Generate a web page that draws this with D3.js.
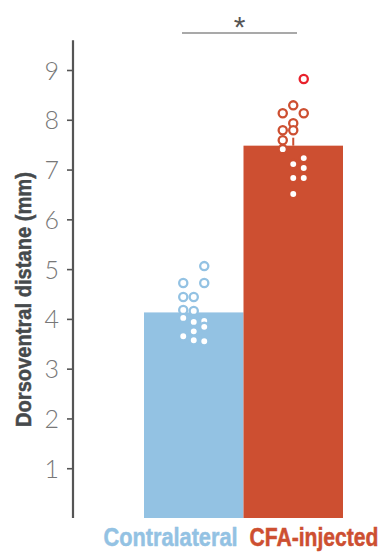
<!DOCTYPE html>
<html>
<head>
<meta charset="utf-8">
<script src="https://cdn.jsdelivr.net/npm/d3@7"></script>
<style>
  html, body { margin: 0; padding: 0; background: #fff; }
  svg { display: block; }
</style>
</head>
<body>
<svg id="chart" width="388" height="554"></svg>
<script>
// Group names, bar means and SEM
const categories = ["Contralateral", "CFA-injected"];
const means = [4.13, 7.48];
const sems = [0.12, 0.16];

// Individual measurements (mm) and their swarm column (0 = left, 1 = middle, 2 = right)
const contraValues = [5.06, 4.72, 4.72, 4.44, 4.44, 4.18, 4.16, 4.02, 3.94, 3.96, 3.84, 3.75, 3.65, 3.57, 3.55];
const contraCols   = [2,    0,    2,    0,    1,    0,    1,    0,    1,    2,    2,    1,    0,    1,    2];
const cfaValues = [8.82, 8.29, 8.13, 8.13, 7.93, 7.79, 7.79, 7.59, 7.41, 7.23, 7.11, 7.03, 6.83, 6.83, 6.51];
const cfaCols   = [2,    1,    0,    2,    1,    1,    0,    0,    0,    2,    1,    2,    1,    2,    1];
const highlightIndex = 0; // example animal marked in the CFA group

const yTicks = [1, 2, 3, 4, 5, 6, 7, 8, 9];
const yLabel = "Dorsoventral distane (mm)";
const sigMark = "*";

const colors = ["#93c2e3", "#cd4f31"];
const highlightColor = "#e8212b";

const svg = d3.select("#chart");

const x = d3.scaleBand().domain(categories).range([144, 343]).padding(0);
const y = d3.scaleLinear().domain([0, 9]).range([518, 70]);
const slot = d3.scalePoint().domain([0, 1, 2]).range([-10.5, 10.5]);

// Bars
svg.selectAll("rect.bar")
  .data(categories)
  .join("rect")
  .attr("class", "bar")
  .attr("x", d => x(d))
  .attr("width", x.bandwidth())
  .attr("y", (d, i) => y(means[i]))
  .attr("height", (d, i) => y(0) - y(means[i]))
  .attr("fill", (d, i) => colors[i]);

// SEM whiskers
svg.selectAll("line.sem")
  .data(categories)
  .join("line")
  .attr("x1", d => x(d) + x.bandwidth() / 2)
  .attr("x2", d => x(d) + x.bandwidth() / 2)
  .attr("y1", (d, i) => y(means[i]))
  .attr("y2", (d, i) => y(means[i] + sems[i]))
  .attr("stroke", (d, i) => colors[i])
  .attr("stroke-width", 2);

// Individual points
const points = [];
contraValues.forEach((v, i) => points.push({ g: 0, v, c: contraCols[i], hl: false }));
cfaValues.forEach((v, i) => points.push({ g: 1, v, c: cfaCols[i], hl: i === highlightIndex }));

svg.selectAll("circle.pt")
  .data(points)
  .join("circle")
  .attr("class", "pt")
  .attr("cx", d => x(categories[d.g]) + x.bandwidth() / 2 + slot(d.c))
  .attr("cy", d => y(d.v))
  .attr("r", 4.1)
  .attr("fill", "#fff")
  .attr("stroke", d => d.hl ? highlightColor : colors[d.g])
  .attr("stroke-width", 2.3);

// Y axis
const axisG = svg.append("g").attr("transform", "translate(73,0)");
const axis = d3.axisLeft(y).tickValues(yTicks).tickSize(6).tickPadding(8).tickFormat(d3.format("d"));
axisG.call(axis);
axisG.select(".domain").remove();
axisG.append("line")
  .attr("x1", 0).attr("x2", 0)
  .attr("y1", y(0)).attr("y2", y(9.6))
  .attr("stroke", "#555").attr("stroke-width", 2.2);
axisG.selectAll(".tick line").attr("stroke", "#555").attr("stroke-width", 1.6);
axisG.selectAll(".tick text")
  .attr("fill", "#777")
  .attr("font-family", "Lato, 'Open Sans', 'Liberation Sans', sans-serif")
  .attr("font-weight", 300)
  .attr("font-size", 25)
  .attr("dy", "0.36em");

// Condensed bold text: squeeze the glyphs horizontally to a target width
function condensedText(parent, str, { x0, y0, anchor, width, size, color, rotate = 0 }) {
  const g = parent.append("g");
  const t = g.append("text")
    .attr("text-anchor", anchor)
    .attr("fill", color)
    .attr("stroke", color)
    .attr("stroke-width", 0.5)
    .attr("font-family", "'Liberation Sans', Arial, sans-serif")
    .attr("font-weight", "bold")
    .attr("font-size", size)
    .text(str);
  const natural = t.node().getComputedTextLength();
  g.attr("transform", `translate(${x0},${y0}) rotate(${rotate}) scale(${width / natural},1)`);
  return g;
}

// Y axis title
condensedText(svg, yLabel, {
  x0: 31, y0: (427 + 172) / 2, anchor: "middle", width: 255, size: 22, color: "#464a4c", rotate: -90
});

// Category labels
const boundary = x(categories[1]);
condensedText(svg, categories[0], { x0: boundary - 6, y0: 546, anchor: "end", width: 134, size: 25, color: colors[0] });
condensedText(svg, categories[1], { x0: boundary + 6, y0: 546, anchor: "start", width: 129, size: 25, color: colors[1] });

// Significance bracket
svg.append("line")
  .attr("x1", 182).attr("x2", 297)
  .attr("y1", 33).attr("y2", 33)
  .attr("stroke", "#555").attr("stroke-width", 1.2);
svg.append("text")
  .attr("x", (182 + 297) / 2).attr("y", 37)
  .attr("text-anchor", "middle")
  .attr("fill", "#555")
  .attr("font-family", "'Liberation Sans', Arial, sans-serif")
  .attr("font-size", 30)
  .text(sigMark);
</script>
</body>
</html>
